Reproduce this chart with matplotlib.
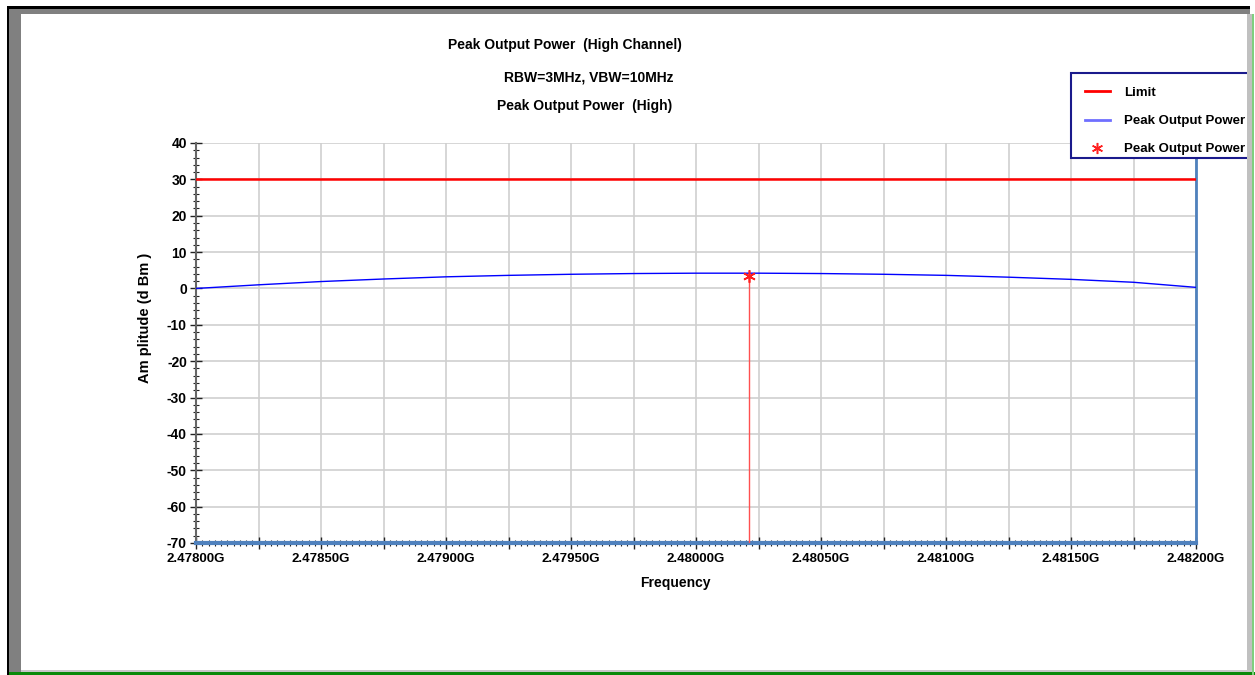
import numpy as np
import matplotlib
matplotlib.use("Agg")
import matplotlib.pyplot as plt
from matplotlib.patches import Rectangle
from matplotlib.lines import Line2D
from matplotlib.ticker import MultipleLocator, FuncFormatter

# trace readings (frequency in GHz, level in dBm)
freq = [2.47800, 2.47825, 2.47850, 2.47875, 2.47900, 2.47925, 2.47950, 2.47975,
        2.48000, 2.48025, 2.48050, 2.48075, 2.48100, 2.48125, 2.48150, 2.48175, 2.48200]
level = [0.0, 1.0, 1.9, 2.6, 3.2, 3.6, 3.9, 4.1,
         4.2, 4.2, 4.1, 3.9, 3.6, 3.1, 2.5, 1.7, 0.3]
limit_db = 30.0
peak_freq = 2.480211
peak_db = 3.5
y_floor = -70

plt.rcParams['font.family'] = ['Liberation Sans', 'DejaVu Sans']
plt.rcParams['font.weight'] = 'bold'

W, H = 1255, 675
fig = plt.figure(figsize=(W / 100, H / 100), dpi=100)
fig.patch.set_facecolor('white')

def fx(px):
    return px / W

def fy(py):
    return 1 - py / H

ax = fig.add_axes([fx(196), fy(543), fx(1196) - fx(196), fy(143) - fy(543)])

ax.plot(freq, level, color='#0000ff', lw=1.0, zorder=3)
ax.axhline(limit_db, color='#ff0000', lw=1.8, zorder=3)
ax.plot([peak_freq, peak_freq], [y_floor, peak_db], color='#ff5050', lw=1.0, zorder=3)
ax.plot([peak_freq], [peak_db], marker=(6, 2, 0), color='#ff2020', ms=9, mew=1.2, zorder=4)

ax.set_xlim(2.478, 2.482)
ax.set_ylim(-70, 40)

ax.xaxis.set_major_locator(MultipleLocator(0.00025))
ax.xaxis.set_minor_locator(MultipleLocator(0.000025))
ax.yaxis.set_major_locator(MultipleLocator(10))
ax.yaxis.set_minor_locator(MultipleLocator(2))

def xfmt(v, pos):
    k = int(round((v - 2.478) / 0.00025))
    return '%.5fG' % v if k % 2 == 0 else ''

ax.xaxis.set_major_formatter(FuncFormatter(xfmt))
ax.yaxis.set_major_formatter(FuncFormatter(lambda v, p: '%d' % v))

ax.grid(True, which='major', color='#cfcfcf', lw=1.2)
ax.set_axisbelow(True)

ax.tick_params(axis='both', which='major', direction='inout', length=9, width=1.0,
               color='#222222', labelsize=10, pad=2)
ax.tick_params(axis='both', which='minor', direction='inout', length=5, width=0.8,
               color='#222222')
ax.tick_params(axis='x', which='major', pad=3, labelsize=9.5)
for lab in ax.get_xticklabels() + ax.get_yticklabels():
    lab.set_fontweight('bold')

ax.spines['top'].set_visible(False)
ax.spines['left'].set_color('#666666')
ax.spines['left'].set_linewidth(1.5)
ax.spines['bottom'].set_color('#4f81bd')
ax.spines['bottom'].set_linewidth(3)
ax.spines['right'].set_color('#4f81bd')
ax.spines['right'].set_linewidth(2)

ax.set_xlabel('Frequency', fontsize=10, fontweight='bold')
ax.xaxis.set_label_coords((675 - 196) / 1000, -(576 - 543) / 400)
ax.set_ylabel('Am plitude (d Bm )', fontsize=10.5, fontweight='bold')
ax.yaxis.set_label_coords(-(196 - 152) / 1000, (543 - 318) / 400)

fig.text(fx(565), fy(45), 'Peak Output Power  (High Channel)', ha='center', va='center',
         fontsize=10, fontweight='bold')
fig.text(fx(589), fy(78), 'RBW=3MHz, VBW=10MHz', ha='center', va='center',
         fontsize=10, fontweight='bold')
fig.text(fx(585), fy(106), 'Peak Output Power  (High)', ha='center', va='center',
         fontsize=10, fontweight='bold')

handles = [
    Line2D([], [], color='#ff0000', lw=2),
    Line2D([], [], color='#6f6fff', lw=2),
    Line2D([], [], color='#ff2020', lw=0, marker=(6, 2, 0), ms=8, mew=1.1),
]
leg = fig.legend(handles, ['Limit', 'Peak Output Power', 'Peak Output Power'],
                 loc='upper left', bbox_to_anchor=(fx(1073), fy(75)),
                 fontsize=9.5, frameon=False, borderpad=0.9,
                 labelspacing=1.2, handlelength=1.9, handletextpad=1.1, borderaxespad=0)
leg.set_zorder(6)
for t in leg.get_texts():
    t.set_fontweight('bold')

# legend frame
fig.patches.append(Rectangle((fx(1071), fy(158)), fx(1262) - fx(1071), fy(73) - fy(158),
                             transform=fig.transFigure, facecolor='white',
                             edgecolor='#1a1a8c', lw=1.5, zorder=5))

# window frame around the chart
def box(x0, y0, x1, y1, color, z=10):
    fig.patches.append(Rectangle((fx(x0), fy(y1)), fx(x1) - fx(x0), fy(y0) - fy(y1),
                                 transform=fig.transFigure, facecolor=color,
                                 edgecolor='none', zorder=z))

box(1253, 0, 1255, 675, 'white', 9)
box(1247, 14, 1253, 672, '#c0c0c0')
box(7, 6, 1250, 9, '#000000')
box(9, 9, 1250, 14, '#808080')
box(7, 6, 9, 675, '#000000')
box(9, 9, 21, 672, '#808080')
box(21, 670, 1253, 672, '#c8c8c8')
box(9, 672, 1255, 675, '#0a8a0a')
box(1252, 14, 1254, 675, '#7fcf7f')

fig.savefig('out.png', dpi=100)
